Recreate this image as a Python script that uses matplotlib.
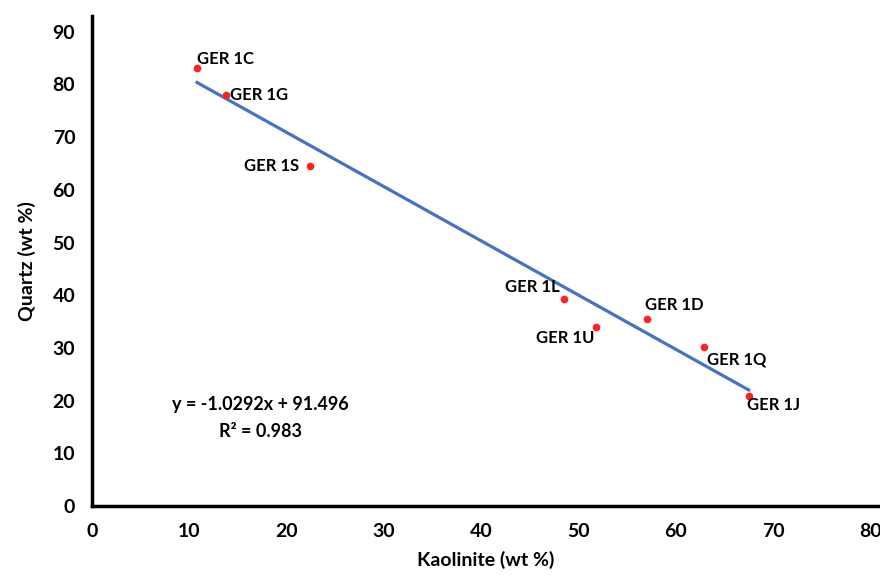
import numpy as np
import matplotlib
matplotlib.use("Agg")
import matplotlib.pyplot as plt

# sample data
samples = ["GER 1C", "GER 1G", "GER 1S", "GER 1L", "GER 1U", "GER 1D", "GER 1Q", "GER 1J"]
kaolinite = [10.8, 13.8, 22.4, 48.5, 51.8, 57.1, 62.9, 67.5]
quartz = [83.1, 78.0, 64.6, 39.2, 34.0, 35.4, 30.2, 20.9]

# trend line given on the chart
slope = -1.0292
intercept = 91.496
r2 = 0.983

# label offsets in points (dx, dy, ha, va)
offsets = {
    "GER 1C": (0, 1, "left", "bottom"),
    "GER 1G": (3, 0, "left", "center"),
    "GER 1S": (-8, 0, "right", "center"),
    "GER 1L": (-3, 3, "right", "bottom"),
    "GER 1U": (-1, -2, "right", "top"),
    "GER 1D": (-2, 5, "left", "bottom"),
    "GER 1Q": (2, -3, "left", "top"),
    "GER 1J": (-1, -1, "left", "top"),
}

plt.rcParams['font.family'] = ['Lato', 'DejaVu Sans']

fig = plt.figure(figsize=(8.8, 5.76), dpi=100)
ax = fig.add_axes([92 / 880, 1 - 506 / 576, 1 - 92 / 880, (506 - 16) / 576])

xs = np.array([min(kaolinite), max(kaolinite)])
ax.plot(xs, slope * xs + intercept, color="#4472C4", lw=2.3, zorder=2)
ax.plot(kaolinite, quartz, "o", color="#FF2020", markersize=4.5, zorder=3)

for name, x, y in zip(samples, kaolinite, quartz):
    dx, dy, ha, va = offsets[name]
    ax.annotate(name, (x, y), xytext=(dx, dy), textcoords="offset points",
                ha=ha, va=va, fontsize=12, fontweight="bold")

ax.text(17.3, 16.7, f"y = {slope}x + {intercept}\nR² = {r2}", ha="center", va="center",
        fontsize=13, fontweight="bold", linespacing=1.65)

ax.set_xlim(0, 81)
ax.set_ylim(0, 93)
ax.set_xticks(range(0, 81, 10))
ax.set_yticks(range(0, 91, 10))
ax.tick_params(length=0, labelsize=14, pad=12)
for lbl in ax.get_xticklabels() + ax.get_yticklabels():
    lbl.set_fontweight("bold")

for s in ["top", "right"]:
    ax.spines[s].set_visible(False)
for s in ["left", "bottom"]:
    ax.spines[s].set_linewidth(2.5)
    ax.spines[s].set_color("black")

ax.set_xlabel("Kaolinite (wt %)", fontsize=14, fontweight="bold", labelpad=8)
ax.set_ylabel("Quartz (wt %)", fontsize=14, fontweight="bold", labelpad=12)

fig.savefig("out.png", dpi=100)
